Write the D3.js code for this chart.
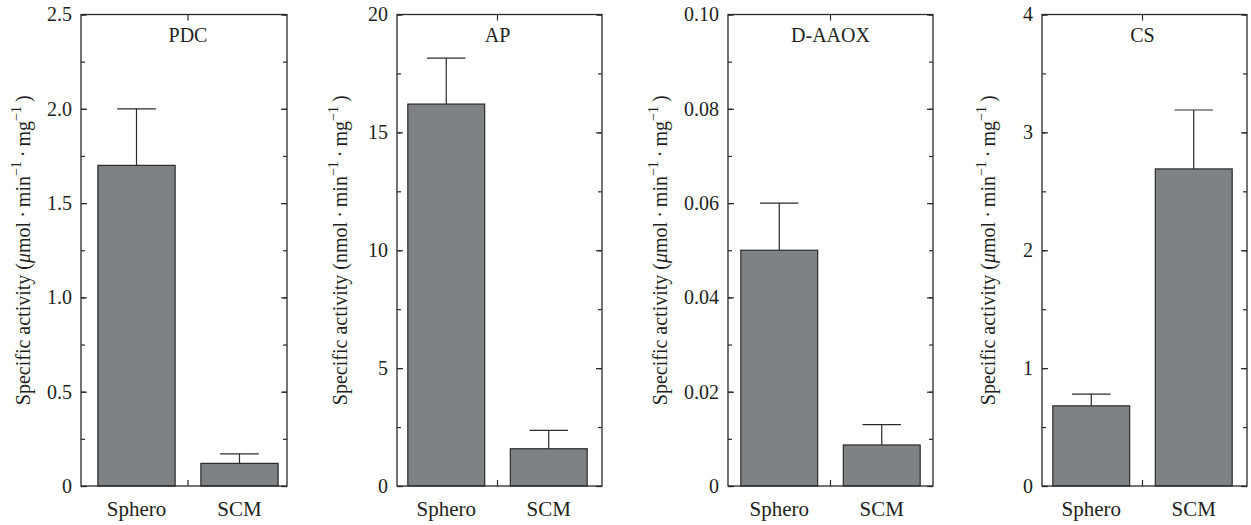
<!DOCTYPE html>
<html>
<head>
<meta charset="utf-8">
<script src="https://cdn.jsdelivr.net/npm/d3@7"></script>
<style>
  html, body { margin: 0; padding: 0; background: #fff; }
  svg { display: block; }
</style>
</head>
<body>
<svg id="chart" width="1251" height="525" font-family="Liberation Serif"></svg>
<script>
// ---------- data ----------
const categories = ["Sphero", "SCM"];
const panelNames = ["PDC", "AP", "D-AAOX", "CS"];
const unitPrefix = ["μ", "n", "μ", "μ"];

const pdcValues = [1.70, 0.12];
const pdcErrors = [0.30, 0.05];
const apValues = [16.2, 1.58];
const apErrors = [1.95, 0.78];
const daaoxValues = [0.050, 0.0087];
const daaoxErrors = [0.010, 0.0043];
const csValues = [0.68, 2.69];
const csErrors = [0.10, 0.50];

const pdcTicks = [0, 0.5, 1.0, 1.5, 2.0, 2.5];
const pdcTickLabels = ["0", "0.5", "1.0", "1.5", "2.0", "2.5"];
const apTicks = [0, 5, 10, 15, 20];
const apTickLabels = ["0", "5", "10", "15", "20"];
const daaoxTicks = [0, 0.02, 0.04, 0.06, 0.08, 0.10];
const daaoxTickLabels = ["0", "0.02", "0.04", "0.06", "0.08", "0.10"];
const csTicks = [0, 1, 2, 3, 4];
const csTickLabels = ["0", "1", "2", "3", "4"];

const yMax = [2.5, 20, 0.10, 4];
const minorStep = [0.25, 2.5, 0.01, 0.5];

// ---------- layout ----------
const frames = [
  { left: 81, right: 287, shift: 4 },
  { left: 397, right: 602, shift: -2 },
  { left: 728, right: 933, shift: 0 },
  { left: 1042, right: 1247, shift: -2 }
];
const plotTop = 14.5, plotBottom = 486;
const INK = "#2a2a2a";
const TXT = "#231f20";
const BAR = "#7f8285";
const FONT = "Liberation Serif, Times New Roman, serif";

const panels = [
  { name: panelNames[0], values: pdcValues, errors: pdcErrors, ticks: pdcTicks, labels: pdcTickLabels },
  { name: panelNames[1], values: apValues, errors: apErrors, ticks: apTicks, labels: apTickLabels },
  { name: panelNames[2], values: daaoxValues, errors: daaoxErrors, ticks: daaoxTicks, labels: daaoxTickLabels },
  { name: panelNames[3], values: csValues, errors: csErrors, ticks: csTicks, labels: csTickLabels }
];

const svg = d3.select("#chart");

panels.forEach((p, i) => {
  const f = frames[i];
  const g = svg.append("g");
  const y = d3.scaleLinear().domain([0, yMax[i]]).range([plotBottom, plotTop]);
  const x = d3.scaleBand().domain(categories)
    .range([f.left + f.shift, f.right + f.shift]).padding(0);
  const bw = x.bandwidth() * 0.75;
  const minor = d3.range(0, yMax[i] + 1e-9, minorStep[i]);

  // bars
  const data = categories.map((c, k) => ({ c, v: p.values[k], e: p.errors[k] }));
  g.selectAll("rect.bar").data(data).join("rect")
    .attr("class", "bar")
    .attr("x", d => x(d.c) + (x.bandwidth() - bw) / 2)
    .attr("width", bw)
    .attr("y", d => y(d.v))
    .attr("height", d => y(0) - y(d.v))
    .attr("fill", BAR)
    .attr("stroke", INK)
    .attr("stroke-width", 1.2);

  // error bars (upper only)
  const cx = d => x(d.c) + x.bandwidth() / 2;
  g.selectAll("line.err").data(data).join("line")
    .attr("class", "err")
    .attr("x1", cx).attr("x2", cx)
    .attr("y1", d => y(d.v)).attr("y2", d => y(d.v + d.e))
    .attr("stroke", INK).attr("stroke-width", 1.2);
  g.selectAll("line.cap").data(data).join("line")
    .attr("class", "cap")
    .attr("x1", d => cx(d) - bw / 4).attr("x2", d => cx(d) + bw / 4)
    .attr("y1", d => y(d.v + d.e)).attr("y2", d => y(d.v + d.e))
    .attr("stroke", INK).attr("stroke-width", 1.2);

  // minor ticks left/right
  const minorL = d3.axisLeft(y).tickValues(minor).tickSize(-4).tickFormat("");
  const minorR = d3.axisRight(y).tickValues(minor).tickSize(-4).tickFormat("");
  g.append("g").attr("transform", `translate(${f.left},0)`).call(minorL);
  g.append("g").attr("transform", `translate(${f.right},0)`).call(minorR);

  // major ticks
  const majorL = d3.axisLeft(y).tickValues(p.ticks).tickSize(-6).tickPadding(9)
    .tickFormat((d, k) => p.labels[k]);
  const majorR = d3.axisRight(y).tickValues(p.ticks).tickSize(-6).tickFormat("");
  const gl = g.append("g").attr("transform", `translate(${f.left},0)`).call(majorL);
  g.append("g").attr("transform", `translate(${f.right},0)`).call(majorR);
  gl.attr("font-family", FONT).attr("font-size", 20);
  gl.selectAll("text").attr("font-family", FONT).attr("font-size", 20).attr("fill", TXT);

  // category axis at bottom (labels) and centre ticks
  const xb = d3.axisBottom(x).tickSize(0).tickPadding(15.5);
  const gb = g.append("g").attr("transform", `translate(0,${plotBottom})`).call(xb);
  gb.attr("font-family", FONT).attr("font-size", 21);
  gb.selectAll("text").attr("font-family", FONT).attr("font-size", 21).attr("fill", TXT);

  const mid = x.range()[0] + x.step();
  g.append("line").attr("x1", mid).attr("x2", mid).attr("y1", plotBottom).attr("y2", plotBottom - 6)
    .attr("stroke", INK).attr("stroke-width", 1.2);
  g.append("line").attr("x1", mid).attr("x2", mid).attr("y1", plotTop).attr("y2", plotTop + 6)
    .attr("stroke", INK).attr("stroke-width", 1.2);

  g.selectAll(".domain").remove();
  g.selectAll(".tick line").attr("stroke", INK).attr("stroke-width", 1.2);

  // frame
  g.append("rect").attr("x", f.left).attr("y", plotTop)
    .attr("width", f.right - f.left).attr("height", plotBottom - plotTop)
    .attr("fill", "none").attr("stroke", INK).attr("stroke-width", 1.3);

  // panel title
  g.append("text").attr("x", mid).attr("y", 42)
    .attr("text-anchor", "middle").attr("font-family", FONT).attr("font-size", 20)
    .attr("fill", TXT).text(p.name);

  // y-axis label
  const labelOffset = [51, 50, 61, 47][i];
  const lab = g.append("text")
    .attr("transform", `translate(${f.left - labelOffset},${(plotTop + plotBottom) / 2}) rotate(-90)`)
    .attr("text-anchor", "middle").attr("font-family", FONT).attr("font-size", 20).attr("fill", TXT);
  lab.append("tspan").text("Specific activity (");
  if (unitPrefix[i] === "μ") {
    lab.append("tspan").attr("font-style", "italic").text("μ");
  } else {
    lab.append("tspan").text(unitPrefix[i]);
  }
  lab.append("tspan").text("mol\u2009·\u2009min");
  lab.append("tspan").attr("font-size", 14).attr("dy", -9).text("\u22121");
  lab.append("tspan").attr("dy", 9).text("\u2009·\u2009mg");
  lab.append("tspan").attr("font-size", 14).attr("dy", -9).text("\u22121");
  lab.append("tspan").attr("dy", 9).text("\u2009)");
});
</script>
</body>
</html>
